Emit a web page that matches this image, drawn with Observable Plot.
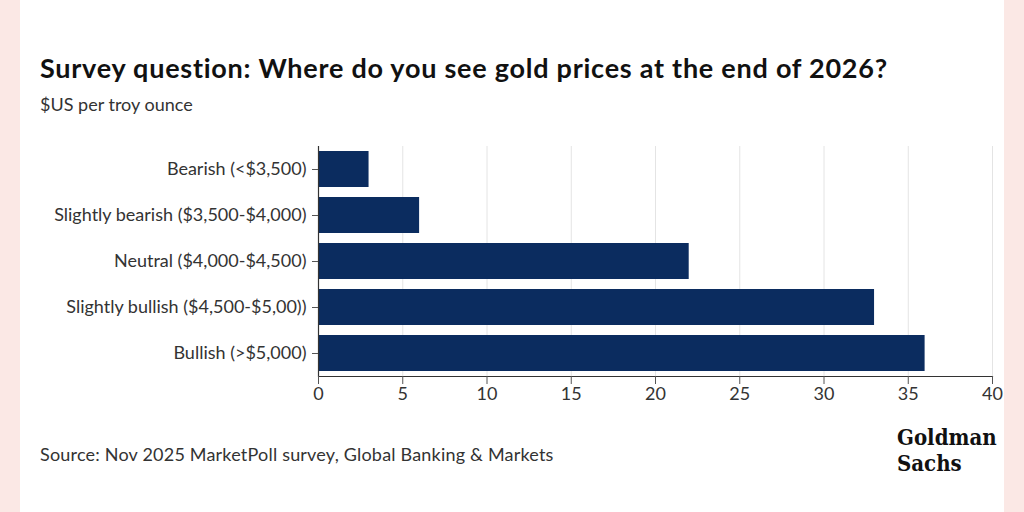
<!DOCTYPE html>
<html>
<head>
<meta charset="utf-8">
<script src="https://cdn.jsdelivr.net/npm/d3@7"></script>
<script src="https://cdn.jsdelivr.net/npm/@observablehq/plot@0.6"></script>
<style>
  html, body { margin: 0; padding: 0; }
  body {
    width: 1024px; height: 512px; overflow: hidden;
    background: #fbe8e5; position: relative;
    font-family: Lato, "Open Sans", sans-serif;
  }
  .card { position: absolute; left: 20px; top: 0; width: 984px; height: 512px; background: #fff; }
  .title { position: absolute; left: 40px; top: 51px; font-size: 27px; font-weight: 700; letter-spacing: 0.75px; color: #111; white-space: nowrap; }
  .subtitle { position: absolute; left: 40px; top: 93px; font-size: 18px; color: #333; }
  .source { position: absolute; left: 40px; top: 443px; font-size: 18px; letter-spacing: 0.2px; color: #333; }
  .logo { position: absolute; left: 897px; font-family: "DejaVu Serif Condensed", "DejaVu Serif", serif;
          font-weight: 700; font-size: 22px; line-height: 22px; color: #111; letter-spacing: 0px; }
  #chart { position: absolute; left: 0; top: 130px; }
</style>
</head>
<body>
<div class="card"></div>
<div class="title">Survey question: Where do you see gold prices at the end of 2026?</div>
<div class="subtitle">$US per troy ounce</div>
<div id="chart"></div>
<div class="source">Source: Nov 2025 MarketPoll survey, Global Banking &amp; Markets</div>
<div class="logo" style="top: 426px;">Goldman</div>
<div class="logo" style="top: 452px;">Sachs</div>
<script>
// Survey answer buckets and share of respondents (%)
const categories = [
  "Bearish (<$3,500)",
  "Slightly bearish ($3,500-$4,000)",
  "Neutral ($4,000-$4,500)",
  "Slightly bullish ($4,500-$5,00))",
  "Bullish (>$5,000)"
];
const shares = [3, 6, 22, 33, 36];
const xTicks = [0, 5, 10, 15, 20, 25, 30, 35, 40];

const rows = categories.map((label, i) => ({label, value: shares[i]}));

const chart = Plot.plot({
  width: 1024,
  height: 280,
  marginTop: 16,
  marginBottom: 34,
  marginLeft: 318,
  marginRight: 32,
  style: {fontFamily: "Lato, 'Open Sans', sans-serif", fontSize: "18px", color: "#333", background: "transparent"},
  x: {domain: [0, 40], ticks: xTicks, label: null},
  y: {domain: categories, paddingInner: 0.22, paddingOuter: 0.085, label: null},
  marks: [
    Plot.gridX(xTicks, {stroke: "#e4e4e4", strokeOpacity: 1}),
    Plot.barX(rows, {x: "value", y: "label", fill: "#0b2c5f"}),
    Plot.ruleX([0], {stroke: "#333", strokeWidth: 1.2}),
    Plot.frame({anchor: "bottom", stroke: "#333", strokeWidth: 1.2}),
    Plot.axisY({tickSize: 6, tickPadding: 6, stroke: "#555", label: null}),
    Plot.axisX(xTicks, {tickSize: 8, tickPadding: 3, stroke: "#555", label: null})
  ]
});
document.getElementById("chart").appendChild(chart);
</script>
</body>
</html>
